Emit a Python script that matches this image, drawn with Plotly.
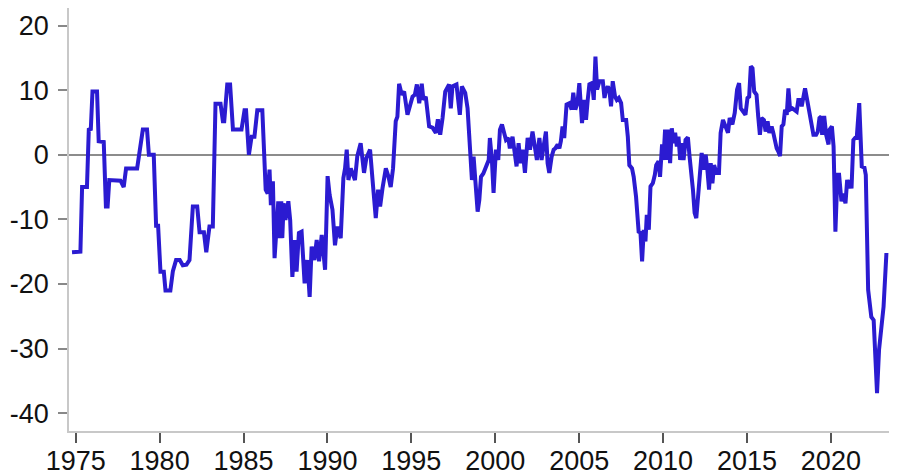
import plotly.graph_objects as go

years = [
    1974.78, 1975.28, 1975.38, 1975.67, 1975.78, 1975.90, 1976.00, 1976.27, 1976.37, 1976.67,
    1976.80, 1976.90, 1977.00, 1977.67, 1977.86, 1978.00, 1978.66, 1978.80, 1979.00, 1979.25,
    1979.36, 1979.65, 1979.79, 1979.91, 1980.05, 1980.25, 1980.35, 1980.64, 1980.79, 1980.98,
    1981.20, 1981.38, 1981.60, 1981.78, 1981.98, 1982.24, 1982.38, 1982.64, 1982.78, 1982.97,
    1983.17, 1983.33, 1983.63, 1983.77, 1983.85, 1984.03, 1984.20, 1984.37, 1984.88, 1985.06,
    1985.15, 1985.32, 1985.48, 1985.65, 1985.82, 1986.12, 1986.24, 1986.32, 1986.44, 1986.55,
    1986.63, 1986.75, 1986.85, 1986.97, 1987.07, 1987.15, 1987.25, 1987.31, 1987.39, 1987.50,
    1987.67, 1987.78, 1987.91, 1988.05, 1988.16, 1988.30, 1988.46, 1988.64, 1988.80, 1988.94,
    1989.06, 1989.22, 1989.36, 1989.50, 1989.66, 1989.86, 1990.01, 1990.13, 1990.30, 1990.45,
    1990.59, 1990.79, 1990.95, 1991.05, 1991.15, 1991.25, 1991.39, 1991.64, 1991.78, 1991.98,
    1992.18, 1992.32, 1992.54, 1992.72, 1992.88, 1993.02, 1993.14, 1993.28, 1993.48, 1993.64,
    1993.77, 1993.91, 1994.07, 1994.17, 1994.27, 1994.43, 1994.57, 1994.77, 1995.07, 1995.21,
    1995.33, 1995.47, 1995.62, 1995.72, 1995.86, 1996.06, 1996.26, 1996.46, 1996.58, 1996.72,
    1996.86, 1997.02, 1997.25, 1997.35, 1997.45, 1997.69, 1997.89, 1998.01, 1998.21, 1998.35,
    1998.55, 1998.61, 1998.71, 1998.81, 1998.95, 1999.05, 1999.15, 1999.29, 1999.45, 1999.61,
    1999.68, 1999.80, 1999.90, 2000.04, 2000.18, 2000.28, 2000.40, 2000.54, 2000.64, 2000.78,
    2000.87, 2001.03, 2001.15, 2001.27, 2001.39, 2001.51, 2001.63, 2001.77, 2001.93, 2002.07,
    2002.22, 2002.36, 2002.48, 2002.63, 2002.76, 2002.88, 2003.02, 2003.12, 2003.22, 2003.36,
    2003.48, 2003.58, 2003.72, 2003.82, 2003.91, 2004.01, 2004.11, 2004.25, 2004.41, 2004.55,
    2004.65, 2004.77, 2004.90, 2005.01, 2005.17, 2005.31, 2005.41, 2005.51, 2005.61, 2005.77,
    2005.87, 2005.97, 2006.07, 2006.21, 2006.41, 2006.51, 2006.61, 2006.71, 2006.81, 2006.90,
    2007.00, 2007.14, 2007.24, 2007.36, 2007.50, 2007.60, 2007.80, 2007.90, 2007.99, 2008.15,
    2008.25, 2008.39, 2008.55, 2008.65, 2008.75, 2008.85, 2008.95, 2009.03, 2009.15, 2009.25,
    2009.39, 2009.51, 2009.59, 2009.73, 2009.82, 2009.94, 2010.02, 2010.12, 2010.22, 2010.32,
    2010.42, 2010.52, 2010.62, 2010.72, 2010.82, 2010.92, 2011.02, 2011.12, 2011.22, 2011.34,
    2011.48, 2011.58, 2011.68, 2011.78, 2011.88, 2011.98, 2012.12, 2012.22, 2012.30, 2012.42,
    2012.54, 2012.64, 2012.74, 2012.84, 2012.94, 2013.04, 2013.18, 2013.33, 2013.43, 2013.57,
    2013.73, 2013.87, 2013.97, 2014.13, 2014.27, 2014.41, 2014.53, 2014.63, 2014.77, 2014.91,
    2015.03, 2015.13, 2015.23, 2015.33, 2015.43, 2015.57, 2015.67, 2015.77, 2015.87, 2016.01,
    2016.11, 2016.23, 2016.33, 2016.47, 2016.57, 2016.67, 2016.77, 2016.87, 2016.97, 2017.07,
    2017.17, 2017.27, 2017.37, 2017.47, 2017.57, 2017.71, 2017.86, 2017.96, 2018.06, 2018.16,
    2018.26, 2018.36, 2018.46, 2018.60, 2018.72, 2018.82, 2018.96, 2019.12, 2019.22, 2019.32,
    2019.42, 2019.48, 2019.60, 2019.72, 2019.86, 2019.92, 2020.06, 2020.16, 2020.27, 2020.39,
    2020.49, 2020.63, 2020.73, 2020.87, 2020.97, 2021.09, 2021.17, 2021.23, 2021.34, 2021.44,
    2021.54, 2021.69, 2021.84, 2022.00, 2022.08, 2022.22, 2022.41, 2022.55, 2022.75, 2022.87,
    2023.00, 2023.14, 2023.31,
]

values = [
    -15.1, -15.0, -5.0, -5.0, 3.9, 4.0, 9.8, 9.8, 2.1, 2.0,
    -8.0, -8.0, -3.9, -4.0, -5.0, -2.1, -2.1, 0.0, 3.9, 3.9,
    0.0, 0.0, -11.0, -11.0, -18.1, -18.1, -21.0, -21.0, -18.0, -16.3,
    -16.3, -17.1, -17.0, -16.3, -8.0, -8.0, -12.0, -12.0, -15.1, -11.1,
    -11.1, 7.9, 7.9, 5.2, 5.2, 10.9, 10.9, 3.9, 3.9, 6.9,
    6.9, 0.0, 2.8, 2.8, 6.9, 6.9, 0.0, -5.4, -6.0, -2.3,
    -7.8, -4.1, -16.0, -10.1, -7.2, -12.9, -7.2, -12.9, -7.5, -10.1,
    -7.2, -10.1, -18.9, -13.2, -18.1, -12.1, -11.9, -19.9, -16.3, -22.0,
    -14.2, -16.3, -13.2, -16.5, -12.4, -17.8, -3.3, -6.2, -8.5, -14.0,
    -11.1, -12.9, -3.6, -2.1, 0.8, -3.9, -2.1, -3.9, -0.2, 1.8,
    -2.8, -0.5, 0.8, -4.9, -9.8, -5.4, -8.0, -5.2, -2.1, -3.4,
    -5.0, -2.1, 5.2, 5.9, 11.0, 9.3, 9.8, 6.2, 9.0, 9.3,
    10.9, 8.0, 11.0, 8.5, 9.0, 4.4, 4.2, 3.4, 5.5, 3.1,
    5.7, 9.8, 10.9, 7.2, 10.6, 10.9, 6.2, 10.6, 9.6, 7.2,
    -0.8, -3.9, -0.3, -4.1, -8.8, -7.0, -3.4, -2.9, -1.8, -0.8,
    2.6, -0.8, -5.9, 0.8, -0.8, 3.9, 4.7, 3.4, 2.3, 2.6,
    1.0, 2.8, 0.3, -1.8, 1.8, -1.3, 0.8, -2.8, 2.6, 0.8,
    3.6, 1.3, -0.8, 2.6, -0.8, 1.3, 3.6, -1.3, -2.8, -0.3,
    0.8, 1.0, 1.6, 1.0, 2.1, 4.4, 2.6, 7.8, 8.0, 7.0,
    9.6, 7.0, 8.0, 11.1, 4.9, 8.5, 5.4, 8.5, 10.9, 11.1,
    8.5, 15.2, 10.1, 11.4, 11.4, 8.8, 10.1, 10.6, 9.8, 7.5,
    11.4, 9.0, 8.5, 8.8, 8.0, 5.4, 5.4, 2.8, -1.6, -2.1,
    -3.4, -6.5, -12.1, -11.9, -16.5, -11.6, -13.4, -9.3, -11.6, -4.9,
    -4.4, -3.1, -1.6, -1.0, -3.4, 1.6, -0.8, 3.9, -0.8, 3.9,
    -1.3, 4.1, 1.8, 3.4, 1.3, 2.8, -0.8, 1.8, -0.8, 2.3,
    2.7, -0.3, -2.3, -5.4, -9.0, -9.8, -5.4, -1.0, 0.3, -2.3,
    0.0, -2.3, -5.4, -1.3, -4.4, -1.6, -2.8, -2.8, 3.4, 5.4,
    4.1, 3.4, 5.7, 4.7, 6.5, 10.1, 11.1, 7.2, 6.7, 6.2,
    8.8, 9.0, 13.7, 13.4, 9.8, 9.3, 5.9, 3.1, 5.7, 5.4,
    3.6, 5.2, 3.4, 4.4, 3.4, 1.8, 1.0, 0.5, -0.2, 4.4,
    4.7, 7.0, 6.2, 10.3, 7.0, 7.2, 7.0, 6.7, 8.5, 8.5,
    7.5, 9.0, 10.3, 8.3, 6.5, 4.9, 3.1, 3.1, 3.6, 5.7,
    5.9, 3.1, 6.0, 3.1, 1.6, 3.9, 4.4, 1.3, -11.9, -3.1,
    -3.1, -7.2, -6.0, -7.5, -3.9, -5.2, -3.9, -5.2, 2.3, 2.6,
    2.6, 8.0, -1.8, -2.0, -3.1, -20.9, -25.1, -25.6, -36.9, -30.2,
    -26.1, -23.5, -15.2,
]

x_tickvals = [1975, 1980, 1985, 1990, 1995, 2000, 2005, 2010, 2015, 2020]
x_ticktext = ["1975", "1980", "1985", "1990", "1995", "2000", "2005", "2010", "2015", "2020"]
y_tickvals = [20, 10, 0, -10, -20, -30, -40]
y_ticktext = ["20", "10", "0", "-10", "-20", "-30", "-40"]

fig = go.Figure()
fig.add_trace(go.Scatter(
    x=years, y=values, mode="lines",
    line=dict(color="#2b1bd1", width=4),
    hoverinfo="skip", showlegend=False,
))

font_family = "Liberation Sans, Arial, sans-serif"

# the page body adds an 8px offset, so the figure is sized to fit the window
fig.update_layout(
    template="none",
    width=889, height=465,
    margin=dict(l=61, r=0, t=0, b=42, pad=0),
    paper_bgcolor="white", plot_bgcolor="white",
    font=dict(family=font_family, size=27, color="#111111"),
    showlegend=False,
    xaxis=dict(
        automargin=False,
        range=[1974.6, 2023.94],
        tickmode="array", tickvals=x_tickvals, ticktext=x_ticktext,
        showgrid=False, zeroline=False,
        showline=True, linecolor="#c8c8c8", linewidth=1.5,
        ticks="outside", ticklen=10, tickwidth=2, tickcolor="#555555",
        ticklabelstandoff=-5,
        tickfont=dict(size=27, family=font_family, color="#111111"),
    ),
    yaxis=dict(
        automargin=False,
        range=[-42.76, 22.73],
        tickmode="array", tickvals=y_tickvals, ticktext=y_ticktext,
        showgrid=False,
        zeroline=True, zerolinecolor="#8c8c8c", zerolinewidth=2,
        showline=True, linecolor="#c8c8c8", linewidth=1.5,
        ticks="outside", ticklen=9, tickwidth=1.5, tickcolor="#888888",
        ticklabelstandoff=4,
        tickfont=dict(size=27, family=font_family, color="#111111"),
    ),
)

fig.write_html("out.html")
